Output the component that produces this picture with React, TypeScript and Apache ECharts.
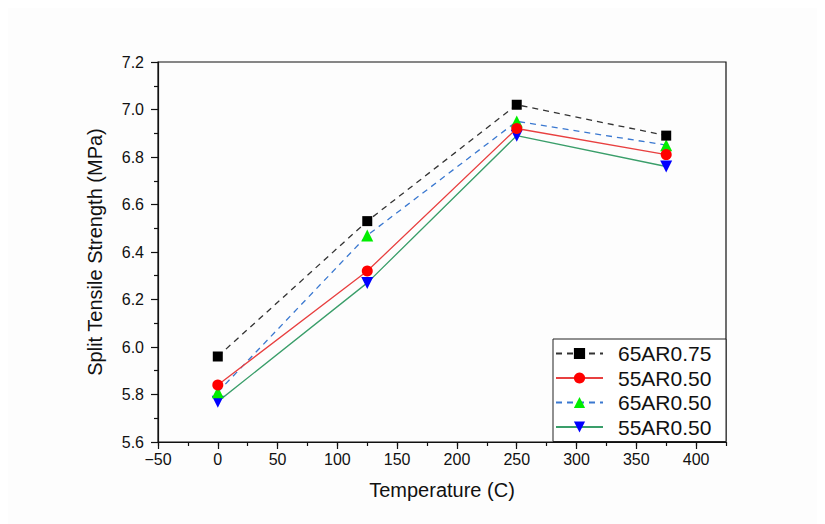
import React, { useEffect, useRef } from "react";
import * as echarts from "echarts";

const temperatures = [0, 125, 250, 375];
const s65AR075 = [5.96, 6.53, 7.02, 6.89];
const s55AR050a = [5.84, 6.32, 6.92, 6.81];
const s65AR050 = [5.81, 6.47, 6.95, 6.85];
const s55AR050b = [5.77, 6.27, 6.89, 6.76];
const seriesNames = ["65AR0.75", "55AR0.50", "65AR0.50", "55AR0.50 "];

const FONT = "'Liberation Sans', Arial, sans-serif";

export default function App() {
  const ref = useRef<HTMLDivElement>(null);
  useEffect(() => {
    if (!ref.current) return;
    const chart = echarts.init(ref.current, null, { renderer: "svg" });
    const pairs = (vals: number[]) => temperatures.map((t, i) => [t, vals[i]]);
    chart.setOption({
      animation: false,
      backgroundColor: "#fdfdfd",
      textStyle: { fontFamily: FONT },
      grid: {
        left: 158,
        top: 62,
        width: 568,
        height: 380,
        show: true,
        borderColor: "#111",
        borderWidth: 1.2,
        backgroundColor: "transparent",
      },
      xAxis: [
        {
          type: "value",
          min: -50,
          max: 425,
          interval: 50,
          position: "bottom",
          name: "Temperature (C)",
          nameLocation: "middle",
          nameGap: 38,
          nameTextStyle: { fontSize: 20, color: "#111", fontFamily: FONT },
          axisLine: { show: true, onZero: false, lineStyle: { color: "#111", width: 1.2 } },
          axisTick: { show: true, inside: false, length: 7, lineStyle: { color: "#111", width: 1.2 } },
          axisLabel: {
            show: true,
            showMaxLabel: false,
            margin: 9,
            fontSize: 16,
            color: "#111",
            fontFamily: FONT,
            formatter: (v: number) => (v < 0 ? "\u2212" + Math.abs(v) : String(v)),
          },
          splitLine: { show: false },
          minorTick: { show: false },
        },
        {
          type: "value",
          min: -50,
          max: 425,
          interval: 25,
          position: "bottom",
          axisLine: { show: false, onZero: false },
          axisTick: { show: true, inside: false, length: 4, lineStyle: { color: "#111", width: 1.2 } },
          axisLabel: { show: false },
          splitLine: { show: false },
        },
      ],
      yAxis: {
        type: "value",
        min: 5.6,
        max: 7.2,
        interval: 0.2,
        name: "Split Tensile Strength (MPa)",
        nameLocation: "middle",
        nameGap: 53,
        nameTextStyle: { fontSize: 20, color: "#111", fontFamily: FONT },
        axisLine: { show: true, onZero: false, lineStyle: { color: "#111", width: 1.2 } },
        axisTick: { show: true, inside: false, length: 7, lineStyle: { color: "#111", width: 1.2 } },
        minorTick: { show: true, splitNumber: 2, length: 4, lineStyle: { color: "#111", width: 1.2 } },
        axisLabel: {
          margin: 14,
          fontSize: 16,
          color: "#111",
          fontFamily: FONT,
          formatter: (v: number) => v.toFixed(1),
        },
        splitLine: { show: false },
      },
      legend: {
        show: true,
        orient: "vertical",
        left: 553,
        top: 339,
        itemWidth: 47,
        itemHeight: 14,
        itemGap: 3.5,
        padding: [4, 2, 4, 2],
        backgroundColor: "#fff",
        borderColor: "#222",
        borderWidth: 1,
        borderRadius: 0,
        textStyle: {
          fontSize: 21,
          color: "#111",
          fontFamily: FONT,
          lineHeight: 20,
          width: 106,
          padding: [0, 0, 0, 10],
        },
        data: seriesNames,
      },
      series: [
        {
          name: seriesNames[0],
          type: "line",
          data: pairs(s65AR075),
          symbol: "rect",
          symbolSize: 10,
          itemStyle: { color: "#000" },
          lineStyle: { color: "#333", width: 1.3, type: [6, 5] },
          z: 5,
        },
        {
          name: seriesNames[1],
          type: "line",
          data: pairs(s55AR050a),
          symbol: "circle",
          symbolSize: 11,
          itemStyle: { color: "#ff0000" },
          lineStyle: { color: "#e84040", width: 1.3, type: "solid" },
          z: 4,
        },
        {
          name: seriesNames[2],
          type: "line",
          data: pairs(s65AR050),
          symbol: "triangle",
          symbolSize: 12,
          itemStyle: { color: "#00ee00" },
          lineStyle: { color: "#3a78d0", width: 1.3, type: [6, 5] },
          z: 3,
        },
        {
          name: seriesNames[3],
          type: "line",
          data: pairs(s55AR050b),
          symbol: "triangle",
          symbolRotate: 180,
          symbolSize: 12,
          itemStyle: { color: "#0000ff" },
          lineStyle: { color: "#3a9e6a", width: 1.3, type: "solid" },
          z: 2,
        },
      ],
    });
    return () => chart.dispose();
  }, []);
  return <div ref={ref} style={{ width: 825, height: 524, marginLeft: -8, marginTop: -8 }} />;
}
